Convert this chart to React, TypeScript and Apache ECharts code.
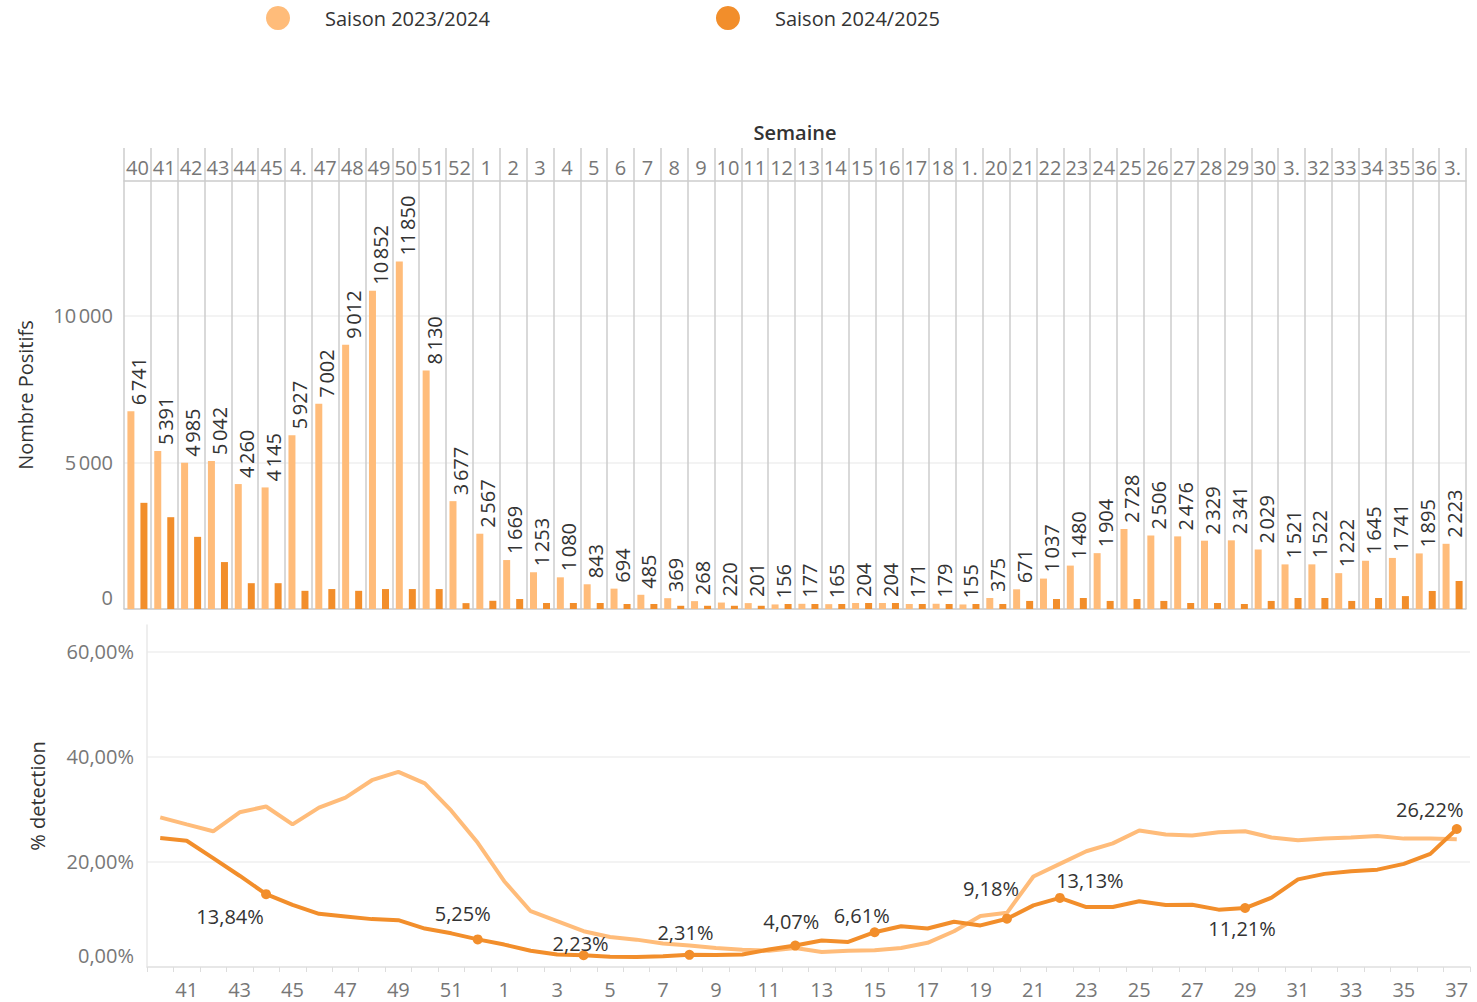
import React, { useEffect, useRef } from 'react';
import * as echarts from 'echarts';

const weeks = ['40','41','42','43','44','45','46','47','48','49','50','51','52','1','2','3','4','5','6','7','8','9','10','11','12','13','14','15','16','17','18','19','20','21','22','23','24','25','26','27','28','29','30','31','32','33','34','35','36','37'];
const headerLabels = ['40','41','42','43','44','45','4.','47','48','49','50','51','52','1','2','3','4','5','6','7','8','9','10','11','12','13','14','15','16','17','18','1.','20','21','22','23','24','25','26','27','28','29','30','3.','32','33','34','35','36','3.'];

const positifs2324 = [6741,5391,4985,5042,4260,4145,5927,7002,9012,10852,11850,8130,3677,2567,1669,1253,1080,843,694,485,369,268,220,201,156,177,165,204,204,171,179,155,375,671,1037,1480,1904,2728,2506,2476,2329,2341,2029,1521,1522,1222,1645,1741,1895,2223];
const positifs2425 = [3620,3130,2460,1600,880,880,620,680,620,680,680,680,200,280,340,205,205,205,170,170,110,110,110,110,170,170,170,205,205,170,170,170,170,275,340,375,275,340,275,205,205,170,275,375,375,275,375,440,615,955];

const detection2324 = [28.45,27.1,25.8,29.4,30.5,27.1,30.3,32.2,35.5,37.1,34.9,29.7,23.6,16.3,10.6,8.7,6.8,5.7,5.2,4.45,4.07,3.6,3.3,3.1,3.6,2.86,3.1,3.2,3.6,4.6,6.8,9.7,10.3,17.2,19.6,22.0,23.5,25.95,25.2,25.0,25.6,25.8,24.6,24.1,24.4,24.6,24.9,24.4,24.4,24.3];
const detection2425 = [24.5,24.0,20.7,17.35,13.84,11.8,10.1,9.6,9.1,8.9,7.3,6.4,5.25,4.26,3.1,2.36,2.23,1.97,1.91,2.04,2.31,2.29,2.36,3.31,4.07,5.02,4.77,6.61,7.75,7.31,8.6,7.9,9.18,11.71,13.13,11.4,11.4,12.5,11.8,11.84,10.9,11.21,13.17,16.65,17.7,18.2,18.5,19.6,21.5,26.22];

// labelled points of the 2024/2025 line: [index, position, offset]
const labelledPoints: [number, string, number[]][] = [
  [4, 'bottom', [-36, 2]],
  [12, 'top', [-15, -6]],
  [16, 'top', [-3, 8]],
  [20, 'top', [-4, -2]],
  [24, 'top', [-4, -4]],
  [27, 'top', [-13, 3]],
  [32, 'top', [-16, -10]],
  [34, 'top', [30, 3]],
  [41, 'bottom', [-3, 0]],
  [49, 'top', [-27, 0]],
];

const LIGHT = '#FFBC7A';
const DARK = '#F28E2B';
const FONT = '"Open Sans", sans-serif';

function fmtThousands(v: number): string {
  const s = String(Math.round(v));
  return s.replace(/\B(?=(\d{3})+(?!\d))/g, '\u202F');
}
function fmtPct(v: number): string {
  return v.toFixed(2).replace('.', ',') + '%';
}

export default function App() {
  const ref = useRef<HTMLDivElement>(null);
  useEffect(() => {
    document.body.style.margin = '0';
    const chart = echarts.init(ref.current!, undefined, { renderer: 'svg' });
    const labelMap = new Map(labelledPoints.map((p) => [p[0], p]));
    const dark = detection2425.map((v, i) => {
      const p = labelMap.get(i);
      if (!p) return { value: v, symbol: 'none' };
      return {
        value: v,
        symbol: 'circle',
        symbolSize: 10,
        label: { show: true, position: p[1], offset: p[2] },
      };
    });
    chart.setOption({
      animation: false,
      textStyle: { fontFamily: FONT },
      legend: {
        data: ['Saison 2023/2024', 'Saison 2024/2025'],
        icon: 'circle',
        itemWidth: 24,
        itemHeight: 24,
        padding: 0,
        left: 266,
        top: 6,
        itemGap: 226,
        textStyle: { fontSize: 20, color: '#333', padding: [0, 0, 0, 30], fontFamily: FONT },
      },
      graphic: [
        {
          type: 'text',
          x: 795,
          y: 132,
          style: { text: 'Semaine', fontSize: 20, fill: '#333', fontWeight: 600, fontFamily: FONT, align: 'center', verticalAlign: 'middle' },
        },
      ],
      grid: [
        { left: 124, right: 11, top: 181, bottom: 393 },
        { left: 124, right: 11, top: 148, height: 33 },
        { left: 147, right: 7, top: 625, bottom: 35 },
      ],
      xAxis: [
        {
          type: 'category',
          gridIndex: 0,
          data: weeks,
          boundaryGap: true,
          axisLabel: { show: false },
          axisTick: { show: false },
          axisLine: { show: true, lineStyle: { color: '#cccccc', width: 1.5 } },
          splitLine: { show: true, interval: 0, lineStyle: { color: '#cccccc', width: 1.5 } },
        },
        {
          type: 'category',
          gridIndex: 1,
          data: weeks,
          boundaryGap: true,
          position: 'bottom',
          axisLabel: {
            show: true,
            inside: true,
            interval: 0,
            margin: 4,
            fontSize: 20,
            color: '#777',
            fontFamily: FONT,
            formatter: (_v: string, i: number) => headerLabels[i],
          },
          axisTick: { show: false },
          axisLine: { show: true, lineStyle: { color: '#cccccc', width: 1.5 } },
          splitLine: { show: true, interval: 0, lineStyle: { color: '#cccccc', width: 1.5 } },
        },
        {
          type: 'category',
          gridIndex: 2,
          data: weeks,
          boundaryGap: true,
          axisLabel: {
            show: true,
            interval: (i: number) => i % 2 === 1,
            fontSize: 20,
            color: '#777',
            margin: 12,
            fontFamily: FONT,
          },
          axisTick: { show: true, interval: 0, length: 5, lineStyle: { color: '#dddddd' } },
          axisLine: { show: true, lineStyle: { color: '#e3e3e3', width: 1.5 } },
          splitLine: { show: false },
        },
      ],
      yAxis: [
        {
          type: 'value',
          gridIndex: 0,
          min: 0,
          max: 14593,
          interval: 5000,
          name: 'Nombre Positifs',
          nameLocation: 'middle',
          nameGap: 89,
          nameTextStyle: { fontSize: 20, color: '#333', fontFamily: FONT },
          axisLine: { show: false },
          axisTick: { show: false },
          axisLabel: {
            fontSize: 20,
            color: '#777',
            margin: 11,
            fontFamily: FONT,
            formatter: (v: number) => (v === 0 ? '{z|0}' : v % 5000 === 0 ? fmtThousands(v) : ''),
            rich: { z: { fontSize: 20, color: '#777', fontFamily: FONT, padding: [0, 0, 24, 0] } },
          },
          splitLine: { show: true, lineStyle: { color: ['#efefef', '#efefef', '#efefef', 'rgba(0,0,0,0)'], width: 1.5 } },
        },
        {
          type: 'value',
          gridIndex: 1,
          show: false,
          splitLine: { show: false },
        },
        {
          type: 'value',
          gridIndex: 2,
          min: 0,
          max: 65,
          interval: 20,
          name: '% detection',
          nameLocation: 'middle',
          nameGap: 100,
          nameTextStyle: { fontSize: 20, color: '#333', fontFamily: FONT },
          axisLine: { show: true, lineStyle: { color: '#e8e8e8', width: 1.5 } },
          axisTick: { show: false },
          axisLabel: {
            fontSize: 20,
            color: '#777',
            margin: 13,
            fontFamily: FONT,
            formatter: (v: number) => (v === 0 ? '{z|' + fmtPct(0) + '}' : v % 20 === 0 ? fmtPct(v) : ''),
            rich: { z: { fontSize: 20, color: '#777', fontFamily: FONT, padding: [0, 0, 24, 0] } },
          },
          splitLine: { show: true, lineStyle: { color: ['#efefef', '#efefef', '#efefef', '#efefef', 'rgba(0,0,0,0)'], width: 1.5 } },
        },
      ],
      series: [
        {
          name: 'Saison 2023/2024',
          type: 'bar',
          xAxisIndex: 0,
          yAxisIndex: 0,
          data: positifs2324,
          barWidth: 7,
          barGap: '86%',
          itemStyle: { color: LIGHT },
          label: {
            show: true,
            position: 'top',
            rotate: 90,
            align: 'left',
            verticalAlign: 'middle',
            offset: [1, 8],
            fontSize: 20,
            color: '#333',
            fontFamily: FONT,
            formatter: (p: any) => fmtThousands(p.value),
          },
        },
        {
          name: 'Saison 2024/2025',
          type: 'bar',
          xAxisIndex: 0,
          yAxisIndex: 0,
          data: positifs2425,
          barWidth: 7,
          barGap: '86%',
          itemStyle: { color: DARK },
        },
        {
          name: 'Saison 2023/2024',
          type: 'line',
          xAxisIndex: 2,
          yAxisIndex: 2,
          data: detection2324,
          symbol: 'none',
          lineStyle: { color: LIGHT, width: 4 },
          itemStyle: { color: LIGHT },
          z: 2,
        },
        {
          name: 'Saison 2024/2025',
          type: 'line',
          xAxisIndex: 2,
          yAxisIndex: 2,
          data: dark,
          symbol: 'circle',
          symbolSize: 10,
          showSymbol: true,
          lineStyle: { color: DARK, width: 4 },
          itemStyle: { color: DARK },
          label: {
            show: false,
            fontSize: 20,
            color: '#333',
            fontFamily: FONT,
            formatter: (p: any) => fmtPct(p.value),
          },
          z: 3,
        },
      ],
    });
    return () => chart.dispose();
  }, []);
  return <div ref={ref} style={{ width: 1477, height: 1002 }} />;
}
